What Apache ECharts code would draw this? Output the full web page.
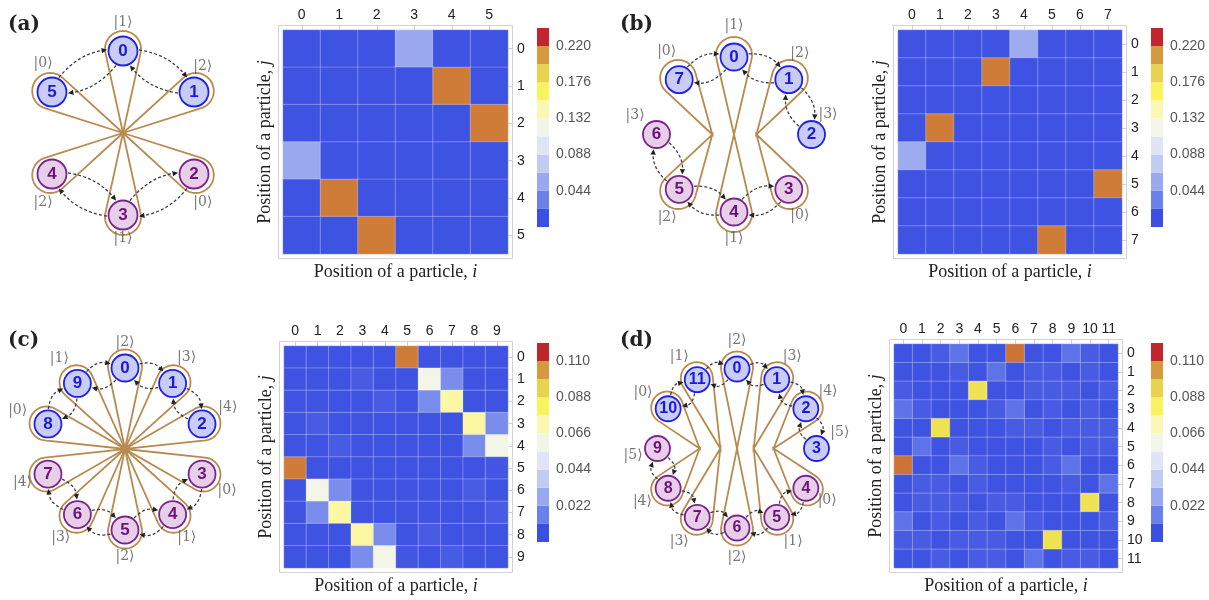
<!DOCTYPE html>
<html><head><meta charset="utf-8">
<script src="https://cdn.jsdelivr.net/npm/echarts@6/dist/echarts.min.js"></script>
<style>html,body{margin:0;padding:0;background:#fff}#c{width:1209px;height:600px}</style>
</head><body><div id="c"></div>
<script>
// ---------- colour scale ----------
const cbColors = ['#3b4fe1','#6b80ea','#9aa9ef','#c2cbf3','#e0e4f7','#f3f5e8','#fbf8b4','#f9f35e','#e9d24c','#d49a3d','#c1262d'];
const cbEdgesAB = [0,0.022,0.044,0.066,0.088,0.110,0.132,0.154,0.176,0.198,0.220,0.242];
const cbEdgesCD = [0,0.011,0.022,0.033,0.044,0.055,0.066,0.077,0.088,0.099,0.110,0.121];
const cbLabelsAB = ['0.044','0.088','0.132','0.176','0.220'];
const cbLabelsCD = ['0.022','0.044','0.066','0.088','0.110'];

// ---------- tick labels ----------
const catsA = ['0','1','2','3','4','5'];
const catsB = ['0','1','2','3','4','5','6','7'];
const catsC = ['0','1','2','3','4','5','6','7','8','9'];
const catsD = ['0','1','2','3','4','5','6','7','8','9','10','11'];

// ---------- correlation matrices (rows = j, columns = i) ----------
const corrA = [
 [0.002,0.002,0.002,0.048,0.002,0.002],
 [0.002,0.002,0.002,0.002,0.224,0.002],
 [0.002,0.002,0.002,0.002,0.002,0.224],
 [0.048,0.002,0.002,0.002,0.002,0.002],
 [0.002,0.224,0.002,0.002,0.002,0.002],
 [0.002,0.002,0.224,0.002,0.002,0.002]
];
const corrB = [
 [0.002,0.002,0.002,0.002,0.050,0.002,0.002,0.002],
 [0.002,0.002,0.002,0.224,0.002,0.002,0.002,0.002],
 [0.002,0.002,0.002,0.002,0.002,0.002,0.002,0.002],
 [0.002,0.224,0.002,0.002,0.002,0.002,0.002,0.002],
 [0.050,0.002,0.002,0.002,0.002,0.002,0.002,0.002],
 [0.002,0.002,0.002,0.002,0.002,0.002,0.002,0.224],
 [0.002,0.002,0.002,0.002,0.002,0.002,0.002,0.002],
 [0.002,0.002,0.002,0.002,0.002,0.224,0.002,0.002]
];
const corrC = [
 [0.001,0.001,0.001,0.001,0.001,0.112,0.001,0.001,0.001,0.001],
 [0.001,0.001,0.001,0.003,0.001,0.001,0.061,0.016,0.001,0.001],
 [0.001,0.001,0.001,0.001,0.003,0.001,0.016,0.075,0.001,0.001],
 [0.001,0.003,0.001,0.001,0.001,0.001,0.001,0.001,0.075,0.016],
 [0.001,0.001,0.003,0.001,0.001,0.001,0.001,0.001,0.016,0.061],
 [0.112,0.001,0.001,0.001,0.001,0.001,0.001,0.001,0.001,0.002],
 [0.001,0.061,0.016,0.001,0.001,0.001,0.001,0.001,0.003,0.001],
 [0.001,0.016,0.075,0.001,0.001,0.001,0.001,0.001,0.001,0.003],
 [0.001,0.001,0.001,0.075,0.016,0.001,0.003,0.001,0.001,0.001],
 [0.001,0.001,0.001,0.016,0.061,0.002,0.001,0.003,0.001,0.001]
];
const corrD = [
 [0.001,0.001,0.003,0.009,0.001,0.001,0.113,0.001,0.001,0.009,0.003,0.001],
 [0.001,0.001,0.001,0.003,0.001,0.009,0.001,0.003,0.003,0.001,0.003,0.001],
 [0.003,0.001,0.001,0.001,0.091,0.001,0.001,0.003,0.003,0.003,0.001,0.003],
 [0.009,0.003,0.001,0.001,0.001,0.003,0.009,0.001,0.003,0.001,0.003,0.001],
 [0.001,0.001,0.091,0.001,0.001,0.001,0.003,0.003,0.001,0.003,0.003,0.003],
 [0.001,0.009,0.001,0.003,0.001,0.001,0.001,0.001,0.003,0.001,0.003,0.003],
 [0.113,0.001,0.001,0.009,0.003,0.001,0.001,0.001,0.003,0.009,0.001,0.001],
 [0.001,0.003,0.003,0.001,0.003,0.001,0.001,0.001,0.001,0.003,0.001,0.009],
 [0.001,0.003,0.003,0.003,0.001,0.003,0.003,0.001,0.001,0.001,0.091,0.001],
 [0.009,0.001,0.003,0.001,0.003,0.001,0.009,0.003,0.001,0.001,0.001,0.003],
 [0.003,0.003,0.001,0.003,0.003,0.003,0.001,0.001,0.091,0.001,0.001,0.001],
 [0.001,0.001,0.003,0.001,0.003,0.003,0.001,0.009,0.001,0.003,0.003,0.001]
];

// ---------- ring diagrams ----------
// node angles (degrees, clockwise from top); groups: 0 = blue, 1 = purple
const nodeAnglesA = [0,60,120,180,240,300];
const nodeGroupA  = [0,0,1,1,1,0];
const nodeAnglesB = [0,45,90,135,180,225,270,315];
const nodeGroupB  = [0,0,0,1,1,1,1,0];
const nodeAnglesC = [0,36,72,108,144,180,216,252,288,324];
const nodeGroupC  = [0,0,0,1,1,1,1,1,0,0];
const nodeAnglesD = [0,30,60,90,120,150,180,210,240,270,300,330];
const nodeGroupD  = [0,0,0,0,1,1,1,1,1,1,0,0];
// petals: [tip radius, tip angle, node]
const petalsA = [[0,0,0],[0,0,1],[0,0,2],[0,0,3],[0,0,4],[0,0,5]];
const petalsB = [[0,0,0],[0,0,4],[0.28,270,7],[0.28,270,5],[0.29,90,1],[0.29,90,3]];
const petalsC = [[0,0,0],[0,0,1],[0,0,2],[0,0,3],[0,0,4],[0,0,5],[0,0,6],[0,0,7],[0,0,8],[0,0,9]];
const petalsD = [[0,0,0],[0,0,6],[0.21,270,11],[0.21,270,7],[0.47,270,10],[0.47,270,8],[0.21,90,1],[0.21,90,5],[0.46,90,2],[0.46,90,4]];
// hopping arrows: [from, to]
const arrowsA = [[5,0],[0,5],[0,1],[1,0],[2,3],[3,2],[3,4],[4,3]];
const arrowsB = [[7,0],[0,7],[0,1],[1,0],[1,2],[2,1],[3,4],[4,3],[4,5],[5,4],[5,6],[6,5]];
const arrowsC = [[8,9],[9,8],[9,0],[0,9],[0,1],[1,0],[1,2],[2,1],[3,4],[4,3],[4,5],[5,4],[5,6],[6,5],[6,7],[7,6]];
const arrowsD = [[10,11],[11,10],[11,0],[0,11],[0,1],[1,0],[1,2],[2,1],[2,3],[3,2],[4,5],[5,4],[5,6],[6,5],[6,7],[7,6],[7,8],[8,7],[8,9],[9,8]];
// ket labels
const ketTextA = ['|1⟩','|2⟩','|0⟩','|1⟩','|2⟩','|0⟩'];
const ketAngA  = [0,50,131,180,229,311];
const ketRA    = [1.35,1.27,1.29,1.29,1.29,1.29];
const ketTextB = ['|1⟩','|2⟩','|3⟩','|0⟩','|1⟩','|2⟩','|3⟩','|0⟩'];
const ketAngB  = [0,39,78,141,180,219,281,321];
const ketRB    = [1.41,1.35,1.24,1.35,1.34,1.37,1.30,1.38];
const ketTextC = ['|2⟩','|3⟩','|4⟩','|0⟩','|1⟩','|2⟩','|3⟩','|4⟩','|0⟩','|1⟩'];
const ketAngC  = [0,34,68,112,145,180,216,252,290,324];
const ketRC    = [1.32,1.36,1.37,1.36,1.33,1.33,1.35,1.33,1.41,1.38];
const ketTextD = ['|2⟩','|3⟩','|4⟩','|5⟩','|0⟩','|1⟩','|2⟩','|3⟩','|4⟩','|5⟩','|0⟩','|1⟩'];
const ketAngD  = [0,31,58,81,120,149,180,212,241,266,301,328];
const ketRD    = [1.36,1.35,1.35,1.31,1.31,1.37,1.37,1.37,1.36,1.31,1.38,1.37];

// ---------- layout ----------
const panels = [
 {tag:'(a)', tagPos:[3,10], corr:corrA, cats:catsA, grid:[283,30,225,224], cb:[537,28,12,199], edges:cbEdgesAB, labels:cbLabelsAB,
  center:[123,133], R:82, angles:nodeAnglesA, groups:nodeGroupA, petals:petalsA, arrows:arrowsA, kt:ketTextA, ka:ketAngA, kr:ketRA, ns:29, nf:17, rb:18, shift:2},
 {tag:'(b)', tagPos:[615,10], corr:corrB, cats:catsB, grid:[898,30,224,224], cb:[1151,28,12,199], edges:cbEdgesAB, labels:cbLabelsAB,
  center:[734,134.5], R:77.5, angles:nodeAnglesB, groups:nodeGroupB, petals:petalsB, arrows:arrowsB, kt:ketTextB, ka:ketAngB, kr:ketRB, ns:27, nf:17, rb:18, shift:2},
 {tag:'(c)', tagPos:[3,326], corr:corrC, cats:catsC, grid:[284,346,224,222], cb:[537,343,12,199], edges:cbEdgesCD, labels:cbLabelsCD,
  center:[125,449], R:81, angles:nodeAnglesC, groups:nodeGroupC, petals:petalsC, arrows:arrowsC, kt:ketTextC, ka:ketAngC, kr:ketRC, ns:27, nf:17, rb:17, shift:1.5},
 {tag:'(d)', tagPos:[615,326], corr:corrD, cats:catsD, grid:[894,344,224,224], cb:[1151,343,12,199], edges:cbEdgesCD, labels:cbLabelsCD,
  center:[737,448.5], R:79.5, angles:nodeAnglesD, groups:nodeGroupD, petals:petalsD, arrows:arrowsD, kt:ketTextD, ka:ketAngD, kr:ketRD, ns:25, nf:16, rb:16, shift:1.5}
];

const nodeFill = ['#c8ccf6','#e7cfe9'];
const nodeStroke = ['#1f22e6','#7d2489'];
const nodeText = ['#1a1ad8','#6e1279'];
const petalColor = '#b98a50';
const SERIF = "'Liberation Serif','DejaVu Serif',serif";
const SANS = "'Liberation Sans','DejaVu Sans',sans-serif";

function petalRender(p){
  return function(params, api){
    const tip = api.coord([api.value(0), api.value(1)]);
    const n = api.coord([1, p.angles[api.value(2)]]);
    let dx = n[0]-tip[0], dy = n[1]-tip[1];
    let L = Math.hypot(dx,dy);
    const ux = dx/L, uy = dy/L;
    const c = [n[0]+ux*p.shift, n[1]+uy*p.shift];
    L += p.shift;
    const beta = Math.acos(Math.min(1, p.rb/L));
    const phi = Math.atan2(-uy,-ux);
    const pts = [tip];
    const a0 = phi+beta, a1 = phi+2*Math.PI-beta, N = 48;
    for (let k=0;k<=N;k++){ const a=a0+(a1-a0)*k/N; pts.push([c[0]+p.rb*Math.cos(a), c[1]+p.rb*Math.sin(a)]); }
    return {type:'polygon', shape:{points:pts}, style:{fill:'none', stroke:petalColor, lineWidth:1.8}, silent:true};
  };
}
function arrowRender(p){
  return function(params, api){
    const a = api.coord([1, p.angles[api.value(0)]]);
    const b = api.coord([1, p.angles[api.value(1)]]);
    const dx=b[0]-a[0], dy=b[1]-a[1], L=Math.hypot(dx,dy), ux=dx/L, uy=dy/L;
    const lx=uy, ly=-ux;
    const rn = p.ns/2+1.5, off=0.6;
    const co=Math.cos(off), so=Math.sin(off);
    const s=[a[0]+rn*(co*ux+so*lx), a[1]+rn*(co*uy+so*ly)];
    const e=[b[0]+rn*(-co*ux+so*lx), b[1]+rn*(-co*uy+so*ly)];
    const h = 0.11*L+1.5;
    const cp=[(s[0]+e[0])/2+lx*h, (s[1]+e[1])/2+ly*h];
    let tx=e[0]-cp[0], ty=e[1]-cp[1]; const tl=Math.hypot(tx,ty); tx/=tl; ty/=tl;
    const hl=5.5, hw=2.7;
    const base=[e[0]-tx*hl, e[1]-ty*hl];
    const head=[e, [base[0]+ty*hw, base[1]-tx*hw], [base[0]-ty*hw, base[1]+tx*hw]];
    return {type:'group', silent:true, children:[
      {type:'bezierCurve', shape:{x1:s[0],y1:s[1],x2:base[0],y2:base[1],cpx1:cp[0],cpy1:cp[1]}, style:{stroke:'#3a3a3a', lineWidth:1.25, lineDash:[3,2.2], fill:'none'}},
      {type:'polygon', shape:{points:head}, style:{fill:'#222'}}
    ]};
  };
}

const option = {
  animation:false, backgroundColor:'#fff',
  title:[], grid:[], xAxis:[], yAxis:[], polar:[], angleAxis:[], radiusAxis:[], visualMap:[], series:[], graphic:[]
};

panels.forEach((p, k) => {
  option.title.push({text:p.tag, left:p.tagPos[0], top:p.tagPos[1], textStyle:{fontFamily:"'DejaVu Serif',serif", fontWeight:'bold', fontSize:20, color:'#222'}});
  option.grid.push({left:p.grid[0], top:p.grid[1], width:p.grid[2], height:p.grid[3], containLabel:false});
  option.grid.push({left:p.cb[0], top:p.cb[1], width:p.cb[2], height:p.cb[3], containLabel:false});
  const gH = 2*k, gC = 2*k+1;
  const nameStyle = {fontFamily:SERIF, fontSize:18, color:'#222', rich:{it:{fontFamily:SERIF, fontStyle:'italic', fontSize:18, color:'#222'}}};
  option.xAxis.push({gridIndex:gH, type:'category', data:p.cats, position:'top', axisLine:{show:false},
    axisTick:{show:true, length:4, alignWithLabel:true, interval:0, lineStyle:{color:'#cfcfcf'}},
    axisLabel:{margin:8, interval:0, fontFamily:SANS, fontSize:14, color:'#222'}, splitLine:{show:false}});
  option.xAxis.push({gridIndex:gH, type:'category', data:p.cats, position:'bottom', axisLine:{show:false}, axisTick:{show:false}, axisLabel:{show:false},
    name:'Position of a particle, {it|i}', nameLocation:'middle', nameGap:9, nameTextStyle:nameStyle});
  option.xAxis.push({gridIndex:gC, type:'value', min:0, max:1, show:false});
  option.yAxis.push({gridIndex:gH, type:'category', data:p.cats, inverse:true, position:'right', axisLine:{show:false},
    axisTick:{show:true, length:4, alignWithLabel:true, interval:0, lineStyle:{color:'#cfcfcf'}},
    axisLabel:{margin:9, interval:0, fontFamily:SANS, fontSize:14, color:'#222'}, splitLine:{show:false}});
  option.yAxis.push({gridIndex:gH, type:'category', data:p.cats, inverse:true, position:'left', axisLine:{show:false}, axisTick:{show:false}, axisLabel:{show:false},
    name:'Position of a particle, {it|j}', nameLocation:'middle', nameGap:9, nameTextStyle:nameStyle});
  const cbMax = p.edges[p.edges.length-1];
  option.yAxis.push({gridIndex:gC, type:'value', min:0, max:cbMax, interval:(p.edges[2]-p.edges[0]), position:'right',
    axisLine:{show:false}, axisTick:{show:false}, splitLine:{show:false},
    axisLabel:{margin:7, fontFamily:SANS, fontSize:14, color:'#555',
      formatter:(v)=>{ const s=v.toFixed(3); return p.labels.indexOf(s)>=0 ? s : ''; }}});
  const hdata=[];
  p.corr.forEach((row,j)=>row.forEach((v,i)=>hdata.push([i,j,v])));
  const sH = option.series.length;
  option.series.push({type:'heatmap', xAxisIndex:3*k, yAxisIndex:3*k, data:hdata,
    itemStyle:{borderColor:'rgba(255,255,255,0.28)', borderWidth:1}, emphasis:{disabled:true}});
  option.visualMap.push({type:'continuous', show:false, min:0, max:cbMax, seriesIndex:sH, dimension:2, inRange:{color:cbColors}});
  const bins=[]; for (let b=0;b<cbColors.length;b++) bins.push([p.edges[b], p.edges[b+1]]);
  option.series.push({type:'custom', xAxisIndex:3*k+2, yAxisIndex:3*k+2, data:bins, silent:true,
    renderItem:(params, api)=>{ const p0=api.coord([0, api.value(0)]), p1=api.coord([1, api.value(1)]);
      return {type:'rect', shape:{x:p0[0], y:p1[1], width:p1[0]-p0[0], height:p0[1]-p1[1]}, style:{fill:cbColors[params.dataIndex]}}; }});
  option.graphic.push({type:'rect', silent:true, shape:{x:p.grid[0]-4.5, y:p.grid[1]-4.5, width:p.grid[2]+9, height:p.grid[3]+9}, style:{fill:'none', stroke:'#d2d2d2', lineWidth:1}});
  option.polar.push({center:p.center, radius:p.R*1.5});
  option.angleAxis.push({polarIndex:k, type:'value', min:0, max:360, startAngle:90, clockwise:true, show:false});
  option.radiusAxis.push({polarIndex:k, type:'value', min:0, max:1.5, show:false});
  option.series.push({type:'custom', coordinateSystem:'polar', polarIndex:k, data:p.petals, z:1, silent:true, renderItem:petalRender(p)});
  option.series.push({type:'custom', coordinateSystem:'polar', polarIndex:k, data:p.arrows, z:2, silent:true, renderItem:arrowRender(p)});
  option.series.push({type:'scatter', coordinateSystem:'polar', polarIndex:k, z:3, silent:true, symbolSize:p.ns,
    data:p.angles.map((a,i)=>({value:[1,a], name:String(i),
      itemStyle:{color:nodeFill[p.groups[i]], borderColor:nodeStroke[p.groups[i]], borderWidth:1.8, opacity:1},
      label:{show:true, position:'inside', formatter:String(i), color:nodeText[p.groups[i]], fontFamily:SANS, fontWeight:'bold', fontSize:p.nf}}))});
  option.series.push({type:'scatter', coordinateSystem:'polar', polarIndex:k, z:3, silent:true, symbolSize:1,
    itemStyle:{color:'rgba(0,0,0,0)'},
    data:p.ka.map((a,i)=>({value:[p.kr[i], a], label:{show:true, position:'inside', formatter:p.kt[i], color:'#555', fontFamily:"'DejaVu Serif',serif", fontSize:14}}))});
});

const chart = echarts.init(document.getElementById('c'), null, {renderer:'canvas'});
chart.setOption(option);
</script></body></html>
